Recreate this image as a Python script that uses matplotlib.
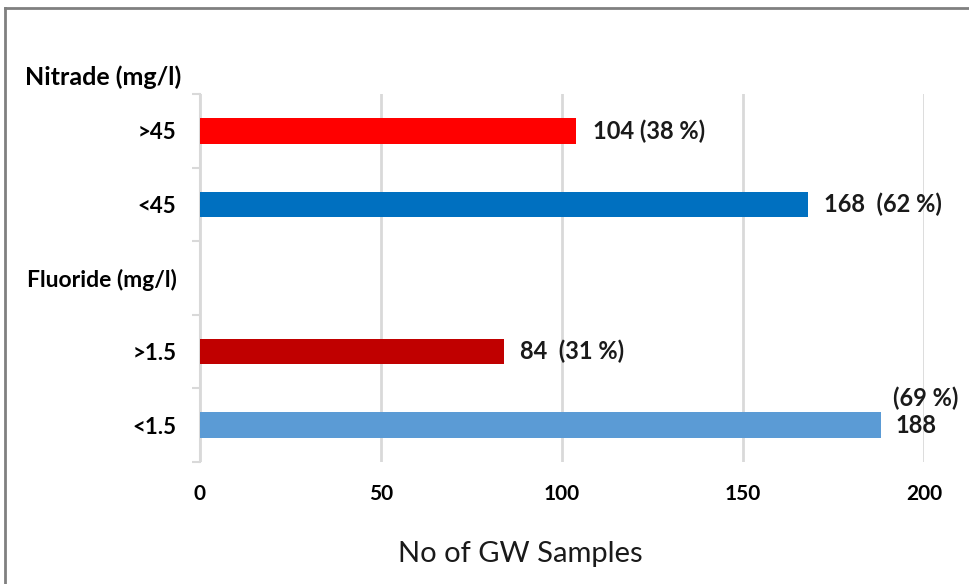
import numpy as np
import matplotlib.pyplot as plt
from matplotlib.lines import Line2D

plt.rcParams['font.family'] = ['Lato', 'DejaVu Sans']

# categories top to bottom; the empty one carries the Fluoride header
categories = ['>45', '<45', 'Fluoride (mg/l)', '>1.5', '<1.5']
counts = [104, 168, 0, 84, 188]
value_labels = ['104 (38 %)', '168  (62 %)', '', '84  (31 %)', '(69 %)\n188']
colors = ['#FF0000', '#0070C0', 'none', '#C00000', '#5B9BD5']
x_ticks = [0, 50, 100, 150, 200]

fig = plt.figure(figsize=(9.69, 5.84), dpi=100)
ax = fig.add_axes([200 / 969, 1 - 462 / 584, 724 / 969, 368 / 584])

y = np.arange(len(categories))[::-1]
bars = ax.barh(y, counts, height=0.35, color=colors, zorder=3)

for i, (b, lab) in enumerate(zip(bars, value_labels)):
    if not lab:
        continue
    if '\n' in lab:
        top, bottom = lab.split('\n')
        ax.text(counts[i] + 3.3, y[i] + 0.37, top, va='center', ha='left',
                fontsize=17, fontweight='bold', color='#1a1a1a')
        ax.text(counts[i] + 4.0, y[i] + 0.0, bottom, va='center', ha='left',
                fontsize=17, fontweight='bold', color='#1a1a1a')
    else:
        ax.text(counts[i] + 4.5, y[i], lab, va='center', ha='left',
                fontsize=17, fontweight='bold', color='#1a1a1a')

ax.set_xlim(0, 200)
ax.set_ylim(-0.5, len(categories) - 0.5)
ax.set_xticks(x_ticks)
ax.set_xticklabels([str(t) for t in x_ticks], fontsize=15, fontweight='bold')
ax.tick_params(axis='x', length=0, pad=16)

ax.set_yticks(y)
ax.set_yticklabels(categories, fontsize=16, fontweight='bold')
ax.tick_params(axis='y', length=0, pad=17)
for t in ax.get_yticklabels():
    if t.get_text().startswith('Fluoride'):
        t.set_fontsize(16.5)

# category separators as small ticks on the left spine
ax.set_yticks(np.arange(-0.5, len(categories), 1.0), minor=True)
ax.tick_params(axis='y', which='minor', length=6, width=1.5, color='#d9d9d9')

ax.grid(axis='x', color='#d9d9d9', linewidth=2, zorder=0)
for s in ['top', 'right', 'bottom']:
    ax.spines[s].set_visible(False)
ax.spines['left'].set_color('#d9d9d9')
ax.spines['left'].set_linewidth(1.5)

ax.set_xlabel('No of GW Samples', fontsize=21, color='#1a1a1a')
ax.xaxis.set_label_coords(0.443, -0.215)
fig.text(25 / 969, 1 - 77 / 584, 'Nitrade (mg/l)', fontsize=18, fontweight='bold',
         va='center', ha='left')

# outer frame (left and top edges)
fig.add_artist(Line2D([5 / 969, 5 / 969], [0, 1 - 8 / 584], transform=fig.transFigure,
                      color='#808080', linewidth=2))
fig.add_artist(Line2D([5 / 969, 1], [1 - 8 / 584, 1 - 8 / 584], transform=fig.transFigure,
                      color='#808080', linewidth=2))

fig.savefig('out.png', dpi=100)
